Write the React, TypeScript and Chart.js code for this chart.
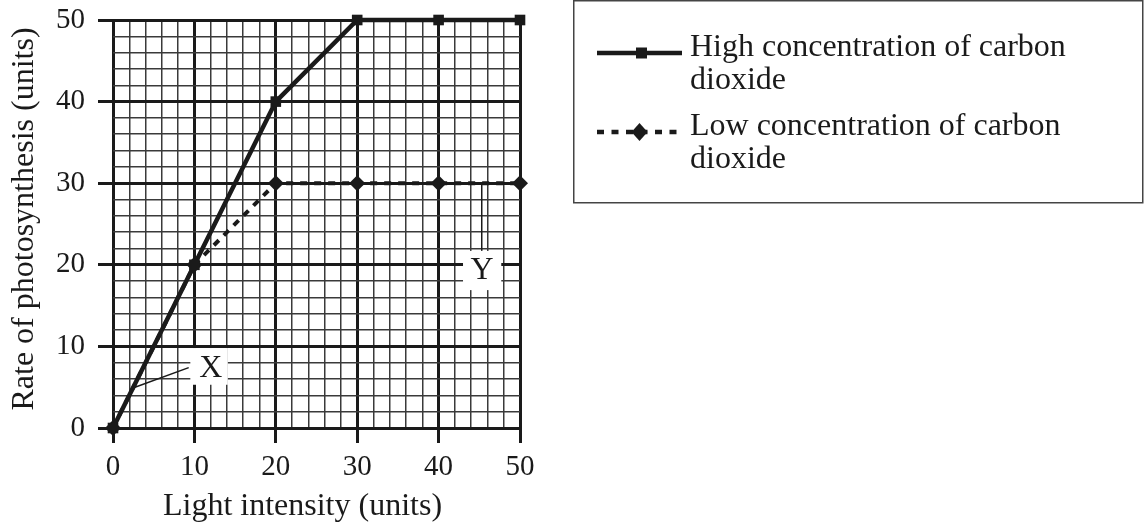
import React, { useEffect, useRef } from "react";
import { Chart, registerables } from "chart.js";

Chart.register(...registerables);

// ---- data ----
const lightIntensity = [0, 10, 20, 30, 40, 50];
const highCO2 = [0, 20, 40, 50, 50, 50];
const lowCO2 = [0, 20, 30, 30, 30, 30];
const highLabel = ["High concentration of carbon", "dioxide"];
const lowLabel = ["Low concentration of carbon", "dioxide"];
const xTitle = "Light intensity (units)";
const yTitle = "Rate of photosynthesis (units)";
const xTickLabels = ["0", "10", "20", "30", "40", "50"];
const yTickLabels = ["0", "10", "20", "30", "40", "50"];

const FONT = "'Liberation Serif', 'Times New Roman', serif";
const INK = "#1a1a1a";

const isMajor = (v: number) => Math.abs(v % 10) < 1e-9;

const decorPlugin = {
  id: "decor",
  afterDatasetsDraw(chart: any) {
    const { ctx } = chart;
    const xs = chart.scales.x;
    const ys = chart.scales.y;
    const px = (v: number) => xs.getPixelForValue(v);
    const py = (v: number) => ys.getPixelForValue(v);
    ctx.save();
    // X annotation
    ctx.strokeStyle = INK;
    ctx.lineWidth = 1.5;
    ctx.beginPath();
    ctx.moveTo(px(2.45), py(4.9));
    ctx.lineTo(px(9.3), py(7.4));
    ctx.stroke();
    ctx.fillStyle = "#fff";
    ctx.fillRect(px(9.5), py(9.8), px(14.1) - px(9.5), py(5.3) - py(9.8));
    // Y annotation
    ctx.beginPath();
    ctx.moveTo(px(45.3), py(30));
    ctx.lineTo(px(45.3), py(21.7));
    ctx.stroke();
    ctx.fillRect(px(43.0), py(21.7), px(47.7) - px(43.0), py(16.9) - py(21.7));
    ctx.fillStyle = INK;
    ctx.font = `32px ${FONT}`;
    ctx.textAlign = "center";
    ctx.textBaseline = "alphabetic";
    ctx.fillText("X", px(12.0), py(5.3) - 8);
    ctx.fillText("Y", px(45.35), py(16.9) - 11);
    ctx.restore();
  },
  afterDraw(chart: any) {
    const { ctx } = chart;
    const xs = chart.scales.x;
    const ys = chart.scales.y;
    ctx.save();
    ctx.fillStyle = INK;
    ctx.font = `32px ${FONT}`;
    // axis titles
    ctx.textAlign = "center";
    ctx.textBaseline = "alphabetic";
    ctx.fillText(xTitle, (xs.left + xs.right) / 2 - 14, 515);
    ctx.save();
    ctx.translate(33, (ys.top + ys.bottom) / 2 - 5);
    ctx.rotate(-Math.PI / 2);
    ctx.fillText(yTitle, 0, 0);
    ctx.restore();

    // legend box
    ctx.strokeStyle = "#444";
    ctx.lineWidth = 1.5;
    ctx.strokeRect(573.75, 0.75, 569, 202);

    const entries = [
      { label: highLabel, y: 53, dash: [] as number[], style: "rect" },
      { label: lowLabel, y: 132, dash: [7, 7.5], style: "rectRot" },
    ];
    for (const e of entries) {
      ctx.strokeStyle = INK;
      ctx.lineWidth = 4.5;
      ctx.setLineDash(e.dash);
      ctx.beginPath();
      ctx.moveTo(597, e.y);
      ctx.lineTo(682, e.y);
      ctx.stroke();
      ctx.setLineDash([]);
      ctx.fillStyle = INK;
      ctx.beginPath();
      if (e.style === "rect") {
        ctx.rect(641.5 - 5.5, e.y - 5.5, 11, 11);
      } else {
        ctx.moveTo(639.5, e.y - 9);
        ctx.lineTo(647.5, e.y);
        ctx.lineTo(639.5, e.y + 9);
        ctx.lineTo(631.5, e.y);
        ctx.closePath();
      }
      ctx.fill();
      ctx.textAlign = "left";
      ctx.textBaseline = "alphabetic";
      e.label.forEach((t, i) => ctx.fillText(t, 690, e.y + 2.5 + i * 33));
    }
    ctx.restore();
  },
};

export default function App() {
  const ref = useRef<HTMLCanvasElement | null>(null);
  useEffect(() => {
    document.body.style.margin = "0";
    const canvas = ref.current!;
    const gridColor = (c: any) => (isMajor(c.tick.value) ? INK : "#3a3a3a");
    const gridWidth = (c: any) => (isMajor(c.tick.value) ? 3 : 1.5);
    const tickColor = (c: any) => (isMajor(c.tick.value) ? INK : "rgba(0,0,0,0)");
    const chart = new Chart(canvas, {
      type: "line",
      data: {
        datasets: [
          {
            label: highLabel.join(" "),
            data: lightIntensity.map((x, i) => ({ x, y: highCO2[i] })),
            borderColor: INK,
            backgroundColor: INK,
            borderWidth: 4.5,
            pointStyle: "rect",
            pointRadius: 7.5,
            pointBorderWidth: 0,
            clip: false,
            order: 1,
          } as any,
          {
            label: lowLabel.join(" "),
            data: lightIntensity.map((x, i) => ({ x, y: lowCO2[i] })),
            borderColor: INK,
            backgroundColor: INK,
            borderWidth: 4,
            borderDash: [7, 7],
            pointStyle: "rectRot",
            pointRadius: 8,
            pointBorderWidth: 0,
            clip: false,
            order: 2,
          } as any,
        ],
      },
      options: {
        responsive: false,
        animation: false,
        devicePixelRatio: 1,
        layout: { padding: { left: 0, right: 624, top: 20, bottom: 0 } },
        plugins: { legend: { display: false }, tooltip: { enabled: false } },
        scales: {
          x: {
            type: "linear",
            min: 0,
            max: 50,
            afterFit: (s: any) => {
              s.height = 99;
              s.paddingLeft = 0;
              s.paddingRight = 0;
            },
            ticks: {
              stepSize: 2,
              autoSkip: false,
              maxRotation: 0,
              maxTicksLimit: 100,
              callback: (v: any) => (isMajor(v) ? xTickLabels[v / 10] : ""),
              font: { family: FONT, size: 29 },
              color: INK,
              padding: 7,
            },
            grid: {
              color: gridColor,
              lineWidth: gridWidth,
              tickLength: 15,
              tickColor,
              tickWidth: 3,
            },
            border: { display: false },
          },
          y: {
            type: "linear",
            min: 0,
            max: 50,
            afterFit: (s: any) => {
              s.width = 113;
              s.paddingTop = 0;
              s.paddingBottom = 0;
            },
            ticks: {
              stepSize: 2,
              autoSkip: false,
              maxTicksLimit: 100,
              callback: (v: any) => (isMajor(v) ? yTickLabels[v / 10] : ""),
              font: { family: FONT, size: 29 },
              color: INK,
              padding: 13,
            },
            grid: {
              color: gridColor,
              lineWidth: gridWidth,
              tickLength: 15,
              tickColor,
              tickWidth: 3,
            },
            border: { display: false },
          },
        },
      },
      plugins: [decorPlugin],
    });
    return () => chart.destroy();
  }, []);
  return (
    <div style={{ position: "fixed", left: 0, top: 0, width: 1144, height: 527, background: "#fff" }}>
      <canvas ref={ref} width={1144} height={527} style={{ width: 1144, height: 527 }} />
    </div>
  );
}
